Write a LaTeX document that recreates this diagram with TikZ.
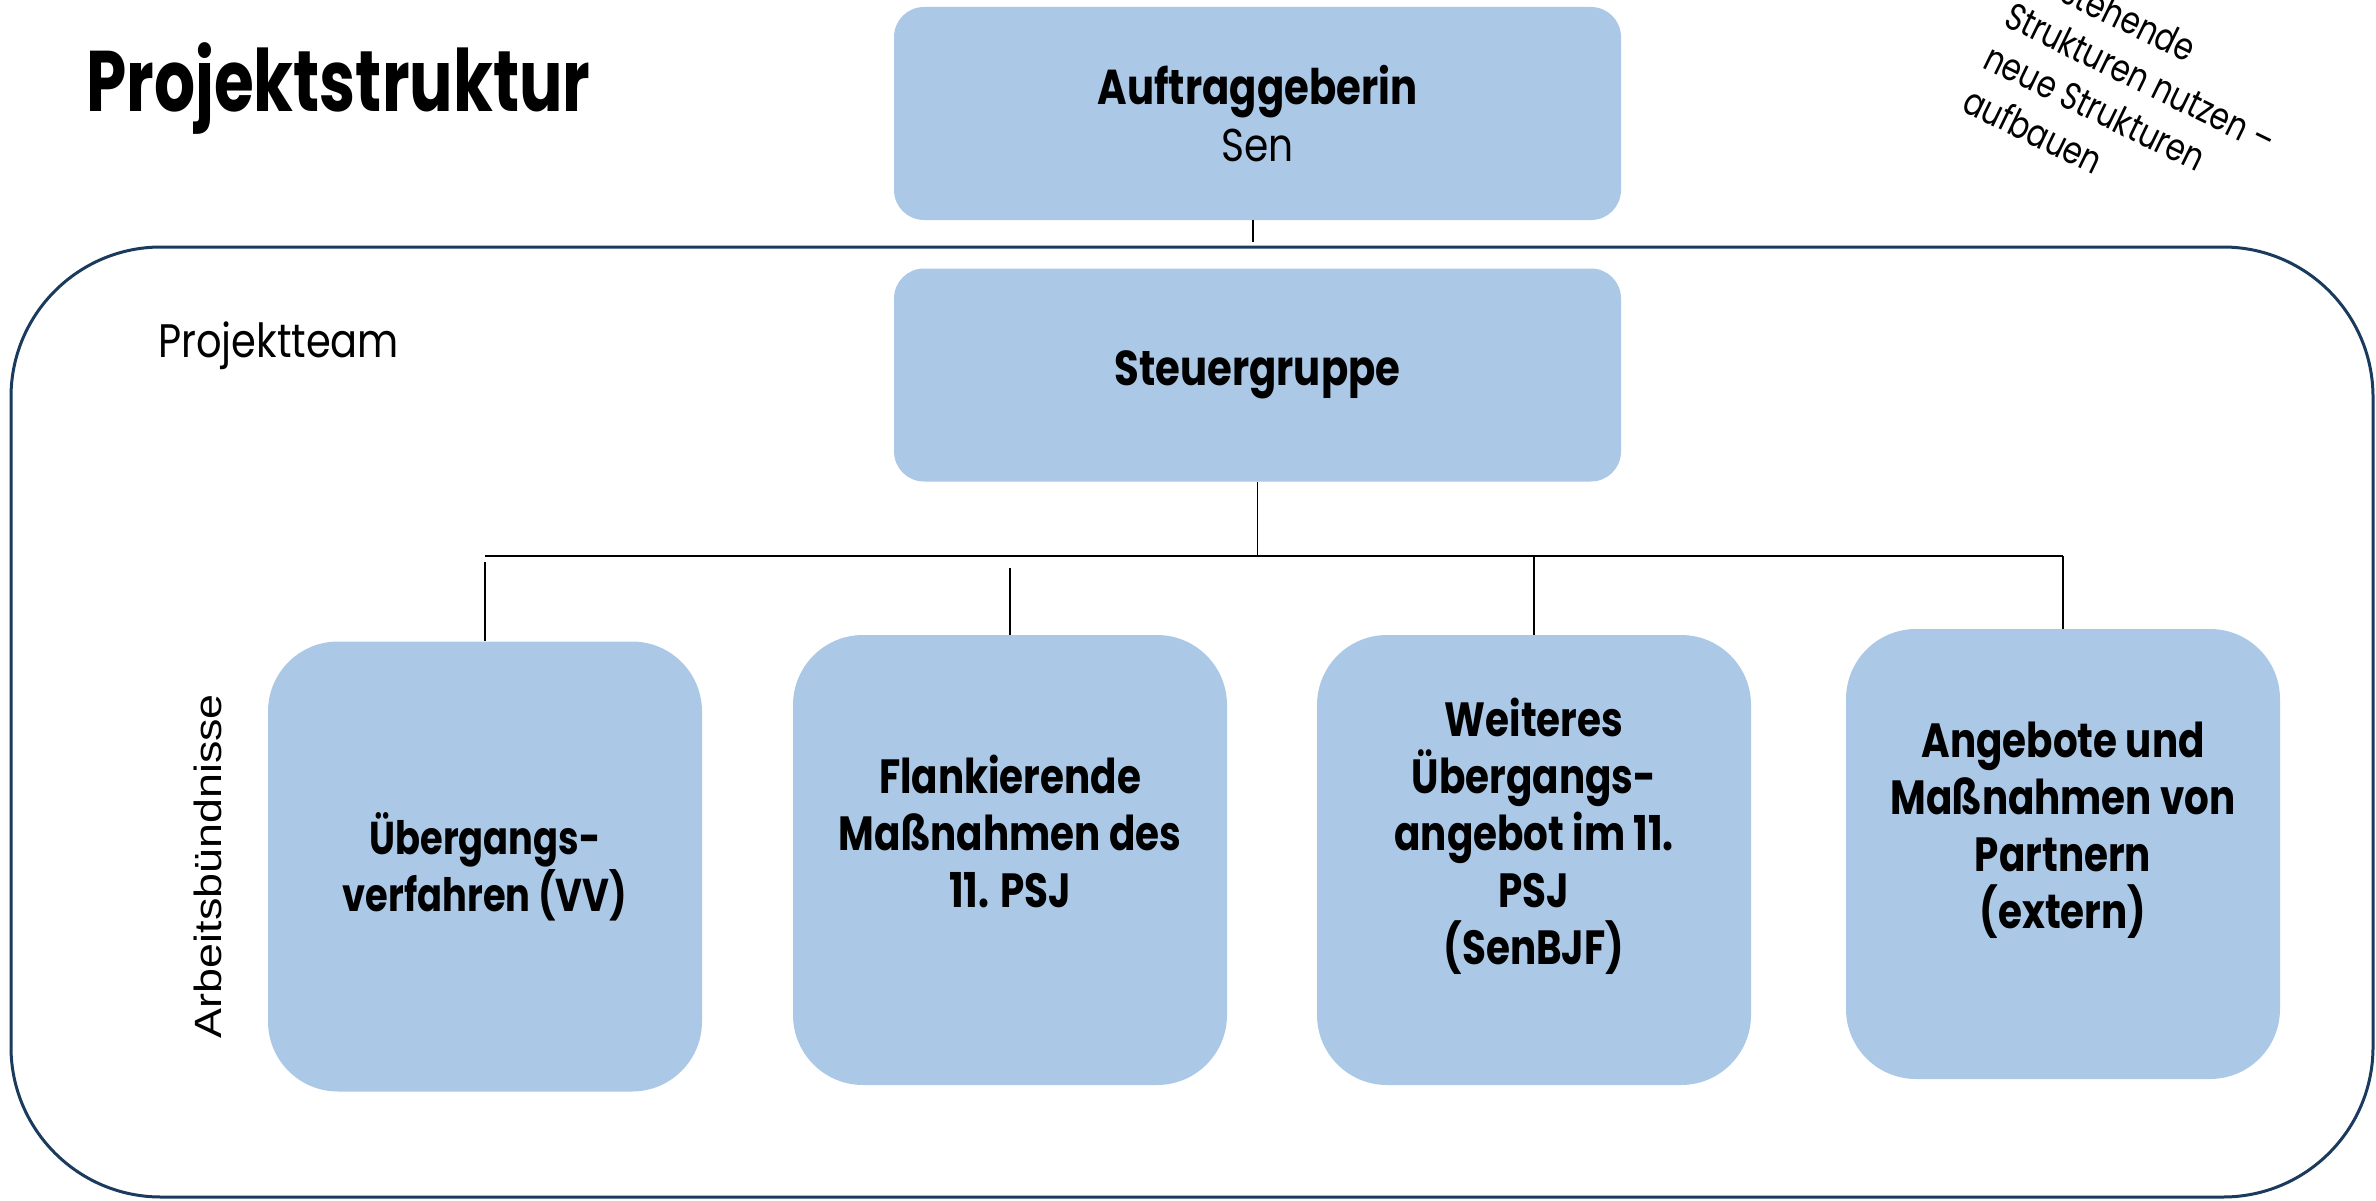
\documentclass[tikz,border=0pt]{standalone}
\usepackage{fontspec}
\setmainfont{Poppins}
\newfontfamily\fbook{Poppins}[FakeStretch=0.85]
\newfontfamily\fnote{Poppins}[FakeStretch=0.80]
\newfontfamily\ftitle{Poppins}[FakeStretch=0.75]
\newfontfamily\ftop{Poppins}[FakeStretch=0.82]
\newfontfamily\fcond{Poppins}[FakeStretch=0.80]
\newfontfamily\fwide{Poppins}[FakeStretch=0.81]
\newfontfamily\farial{Liberation Sans}[FakeStretch=1.18]
\definecolor{boxblue}{HTML}{ABC9E6}
\definecolor{navy}{HTML}{1A3A5E}
\tikzset{
  topbox/.style={fill=boxblue, rounded corners=30pt, minimum width=727pt, minimum height=213pt,
    inner sep=0pt, align=center, font=\ftop\bfseries\fontsize{49}{57}\selectfont},
  workbox/.style={fill=boxblue, rounded corners=70pt, minimum width=434pt, minimum height=450pt,
    inner sep=0pt, align=center, font=\fwide\bfseries\fontsize{48}{57}\selectfont},
  conn/.style={draw=black, line width=1.3pt},
  teambox/.style={draw=navy, line width=3pt, rounded corners=150pt, minimum width=2362pt,
    minimum height=950pt, inner sep=0pt},
  rottext/.style={rotate=-26, anchor=base west, inner sep=0pt, font=\fnote\fontsize{38}{47}\selectfont},
}
\begin{document}
\begin{tikzpicture}[x=1pt,y=-1pt]
\useasboundingbox (0,0) rectangle (2376,1201);
% container
\node[teambox] (team) at (1192,722) {};
% title and labels
\node[anchor=base west, inner sep=0pt, font=\ftitle\bfseries\fontsize{86}{100}\selectfont] (title) at (86,112) {Projektstruktur};
\node[anchor=base west, inner sep=0pt, font=\fbook\fontsize{47}{56}\selectfont] (ptlabel) at (158,357) {Projektteam};
\node[rotate=90, anchor=base, inner sep=0pt, font=\farial\fontsize{38}{45}\selectfont] (ablabel) at (221,866) {Arbeitsbündnisse};
% rotated note
\node[rottext] (r1) at (2023,-17) {bestehende};
\node[rottext] (r2) at (2002,25) {Strukturen nutzen –};
\node[rottext] (r3) at (1981,67) {neue Strukturen};
\node[rottext] (r4) at (1960,110) {aufbauen};
% top boxes
\node[topbox] (auf) at (1257.5,113.5) {Auftraggeberin\\{\fbook\mdseries\fontsize{46}{57}\selectfont Sen}};
\node[topbox] (steu) at (1257.5,375) {Steuergruppe};
% work boxes
\node[workbox, font=\fcond\bfseries\fontsize{46}{57}\selectfont] (b1) at (485,866.5) {Übergangs-\\verfahren (VV)};
\node[workbox] (b2) at (1010,860) {Flankierende\\Maßnahmen des\\11. PSJ\\\mbox{}};
\node[workbox] (b3) at (1534,860) {Weiteres\\Übergangs-\\angebot im 11.\\PSJ\\(SenBJF)\\\mbox{}};
\node[workbox] (b4) at (2063,854) {Angebote und\\Maßnahmen von\\Partnern\\(extern)\\\mbox{}};
% connectors
\coordinate (ptop) at (1253,242);
\coordinate (bus) at (1257.5,556);
\coordinate (busL) at (485,556);
\coordinate (busR) at (2063,556);
\coordinate (d1) at (485,562);
\coordinate (d2) at (1010,568);
\coordinate (d3) at (1534,556);
\coordinate (d4) at (2063,556);
\draw[conn] (auf.south -| ptop) -- (ptop);
\draw[conn] (steu.south) -- (bus);
\draw[conn] (busL) -- (busR);
\draw[conn] (d1) -- (b1.north);
\draw[conn] (d2) -- (b2.north);
\draw[conn] (d3) -- (b3.north);
\draw[conn] (d4) -- (b4.north);
\end{tikzpicture}
\end{document}
